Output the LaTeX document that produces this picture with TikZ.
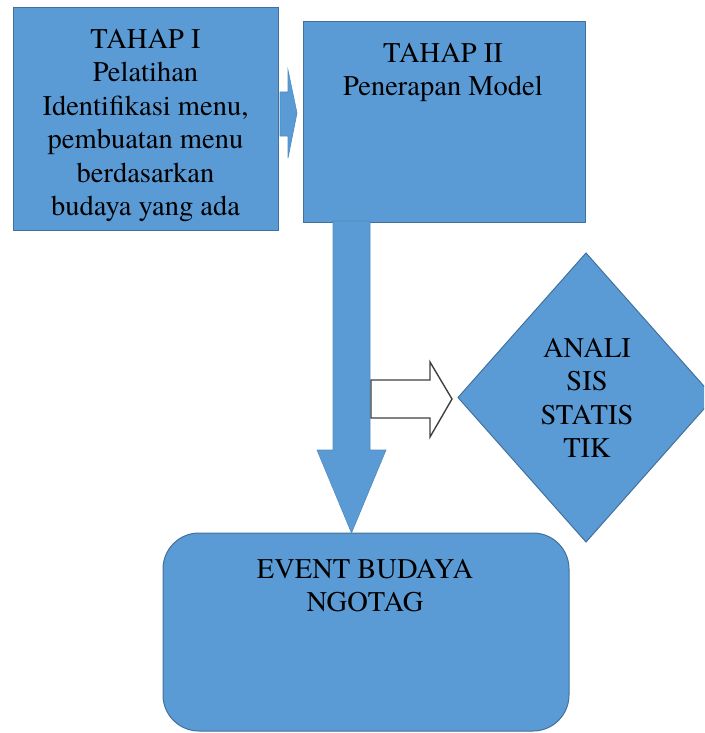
\documentclass[tikz,border=0pt]{standalone}
\usepackage{fontspec}
\IfFontExistsTF{texgyretermes-regular.otf}
  {\setmainfont{texgyretermes-regular.otf}}
  {}
\usetikzlibrary{positioning}
\definecolor{boxblue}{RGB}{91,155,213}
\definecolor{boxedge}{RGB}{65,113,156}
\definecolor{arrowedge}{RGB}{64,64,64}
\tikzset{
  bluebox/.style={draw=boxedge, fill=boxblue, line width=1pt, inner sep=0pt},
  blockarrow/.style={fill=boxblue, draw=boxblue!90!black, line width=0.6pt, line join=miter},
  whitearrow/.style={fill=white, draw=arrowedge, line width=1.4pt, line join=miter},
  boxtext/.style={anchor=north, inner sep=0pt, align=center, text=black,
    font=\fontsize{28.5}{33.5}\selectfont},
}
\begin{document}
\begin{tikzpicture}[x=1pt, y=-1pt]
\useasboundingbox (0,0) rectangle (704,733);
\clip (0,0) rectangle (704,733);
% boxes
\node[bluebox, minimum width=265pt, minimum height=222pt] (box1) at (145.5,119) {};
\node[bluebox, minimum width=282pt, minimum height=200pt] (box2) at (444,122) {};
\draw[bluebox] (458,397.5) -- (586,253) -- (714,397.5) -- (586,542) -- cycle;
\coordinate (diamondc) at (586,397.5);
\node[bluebox, rounded corners=36pt, minimum width=406pt, minimum height=198pt] (event) at (366,632) {};
% small arrow between box1 and box2
\draw[blockarrow] (280,92) -- (288,92) -- (288,70) -- (297,113) -- (288,158) -- (288,136) -- (280,136) -- cycle;
% big down arrow
\draw[blockarrow] (333,221) -- (370,221) -- (370,450) -- (386,450) -- (351.5,533) -- (317,450) -- (333,450) -- cycle;
% white arrow to diamond
\draw[whitearrow] (371,380) -- (430,380) -- (430,362) -- (452,399) -- (430,437) -- (430,418) -- (371,418) -- cycle;
% texts
\node[boxtext] (t1) at (145.5,29) {TAHAP I\\Pelatihan\\Identifikasi menu,\\pembuatan menu\\berdasarkan\\budaya yang ada};
\node[boxtext] (t2) at (443,43) {TAHAP II\\Penerapan Model};
\node[boxtext] (t3) at (587,338) {ANALI\\SIS\\STATIS\\TIK};
\node[boxtext] (t4) at (365,559) {EVENT BUDAYA\\NGOTAG};
\end{tikzpicture}
\end{document}
